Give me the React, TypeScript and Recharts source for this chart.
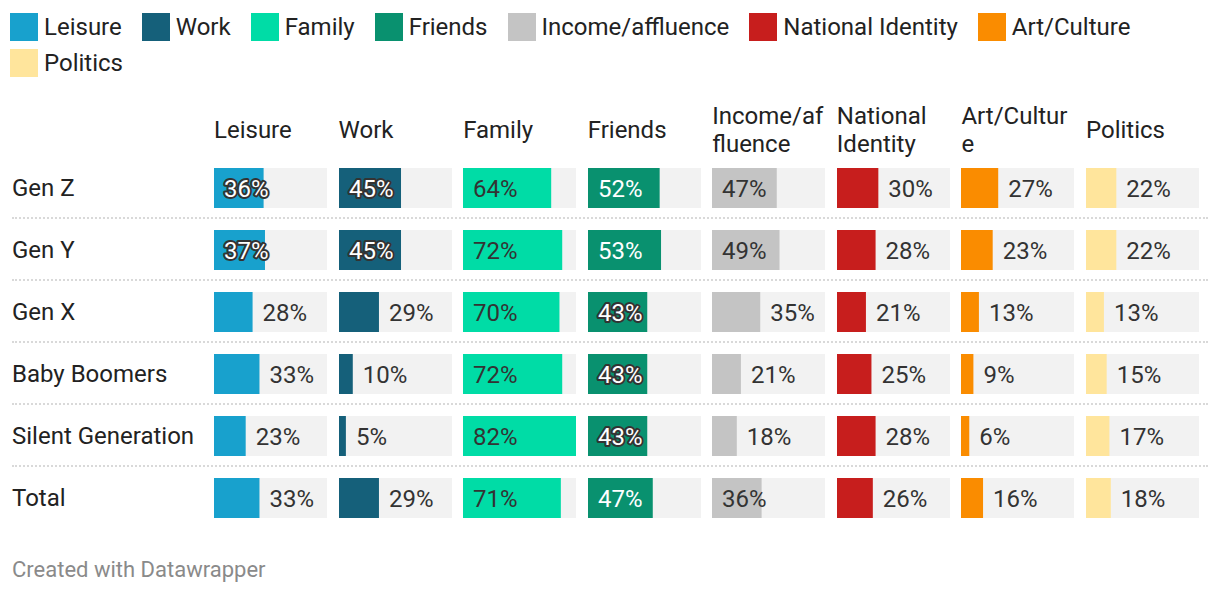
import { Bar, BarChart, LabelList, XAxis, YAxis } from "recharts"

const categories = ["Gen Z", "Gen Y", "Gen X", "Baby Boomers", "Silent Generation", "Total"]
const seriesNames = [
  "Leisure",
  "Work",
  "Family",
  "Friends",
  "Income/affluence",
  "National Identity",
  "Art/Culture",
  "Politics",
]
// column headers wrap like the original table does
const headerLines = [
  ["Leisure"],
  ["Work"],
  ["Family"],
  ["Friends"],
  ["Income/af", "fluence"],
  ["National", "Identity"],
  ["Art/Cultur", "e"],
  ["Politics"],
]
const leisure = [36, 37, 28, 33, 23, 33]
const work = [45, 45, 29, 10, 5, 29]
const family = [64, 72, 70, 72, 82, 71]
const friends = [52, 53, 43, 43, 43, 47]
const income = [47, 49, 35, 21, 18, 36]
const nationalIdentity = [30, 28, 21, 25, 28, 26]
const artCulture = [27, 23, 13, 9, 6, 16]
const politics = [22, 22, 13, 15, 17, 18]

const series = [leisure, work, family, friends, income, nationalIdentity, artCulture, politics]
const colors = ["#18a1cd", "#15607a", "#00dca6", "#09916f", "#c4c4c4", "#c71e1d", "#fa8c00", "#ffe59c"]
const insideInk = ["#fff", "#fff", "#333", "#fff", "#333", "#fff", "#fff", "#333"]

const maxValue = Math.max(...series.flat())

const COL_X = 214
const COL_STEP = 124.57
const COL_W = 113
const TOP = 157
const ROW_H = 62
const FONT = "Roboto, 'Noto Sans', sans-serif"

function makeLabel(ink: string) {
  return (props: any) => {
    const x = Number(props.x)
    const y = Number(props.y)
    const width = Number(props.width)
    const height = Number(props.height)
    const value = props.value
    const inside = width >= 49
    const halo = inside && ink === "#fff" && value < 46
    return (
      <text
        x={inside ? x + 10 : x + width + 10}
        y={y + height / 2 + 8.5}
        fill={inside ? ink : "#333"}
        fontSize={24}
        fontFamily={FONT}
        stroke={halo ? "#333" : "none"}
        strokeWidth={halo ? 4 : 0}
        strokeLinejoin="round"
        paintOrder="stroke"
      >
        {value}%
      </text>
    )
  }
}

function Column({ index }: { index: number }) {
  const data = categories.map((name, i) => ({ name, value: series[index][i] }))
  return (
    <div style={{ position: "absolute", left: COL_X + index * COL_STEP, top: TOP }}>
      <BarChart
        width={COL_W}
        height={ROW_H * categories.length}
        data={data}
        layout="vertical"
        margin={{ top: 0, right: 0, bottom: 0, left: 0 }}
      >
        <XAxis type="number" domain={[0, maxValue]} hide />
        <YAxis type="category" dataKey="name" hide />
        <Bar
          dataKey="value"
          fill={colors[index]}
          barSize={40}
          background={{ fill: "#f2f2f2" }}
          isAnimationActive={false}
        >
          <LabelList dataKey="value" content={makeLabel(insideInk[index])} />
        </Bar>
      </BarChart>
    </div>
  )
}

export default function App() {
  return (
    <div
      style={{
        position: "absolute",
        left: 0,
        top: 0,
        width: 1220,
        height: 596,
        background: "#fff",
        fontFamily: FONT,
        color: "#222",
      }}
    >
      <div
        style={{
          position: "absolute",
          left: 10,
          top: 13,
          width: 1200,
          display: "flex",
          flexWrap: "wrap",
          columnGap: 20,
          rowGap: 8,
        }}
      >
        {seriesNames.map((name, i) => (
          <div key={name} style={{ display: "flex", alignItems: "center", height: 28 }}>
            <div style={{ width: 28, height: 28, background: colors[i], marginRight: 6 }} />
            <span style={{ fontSize: 24, lineHeight: "28px" }}>{name}</span>
          </div>
        ))}
      </div>

      {headerLines.map((lines, i) => (
        <div
          key={i}
          style={{
            position: "absolute",
            left: COL_X + i * COL_STEP,
            top: lines.length > 1 ? 102 : 116,
            fontSize: 24,
            lineHeight: "28px",
            whiteSpace: "nowrap",
          }}
        >
          {lines.map((l) => (
            <div key={l}>{l}</div>
          ))}
        </div>
      ))}

      {categories.map((c, k) => (
        <div
          key={c}
          style={{
            position: "absolute",
            left: 12,
            top: TOP + k * ROW_H,
            height: ROW_H,
            display: "flex",
            alignItems: "center",
            fontSize: 24,
          }}
        >
          {c}
        </div>
      ))}

      {categories.slice(1).map((c, k) => (
        <div
          key={c + "-sep"}
          style={{
            position: "absolute",
            left: 12,
            width: 1196,
            top: TOP + (k + 1) * ROW_H - 2,
            borderTop: "2px dotted #d9d9d9",
          }}
        />
      ))}

      {seriesNames.map((name, i) => (
        <Column key={name} index={i} />
      ))}

      <div style={{ position: "absolute", left: 12, top: 557, fontSize: 22, color: "#8a8a8a" }}>
        Created with Datawrapper
      </div>
    </div>
  )
}
